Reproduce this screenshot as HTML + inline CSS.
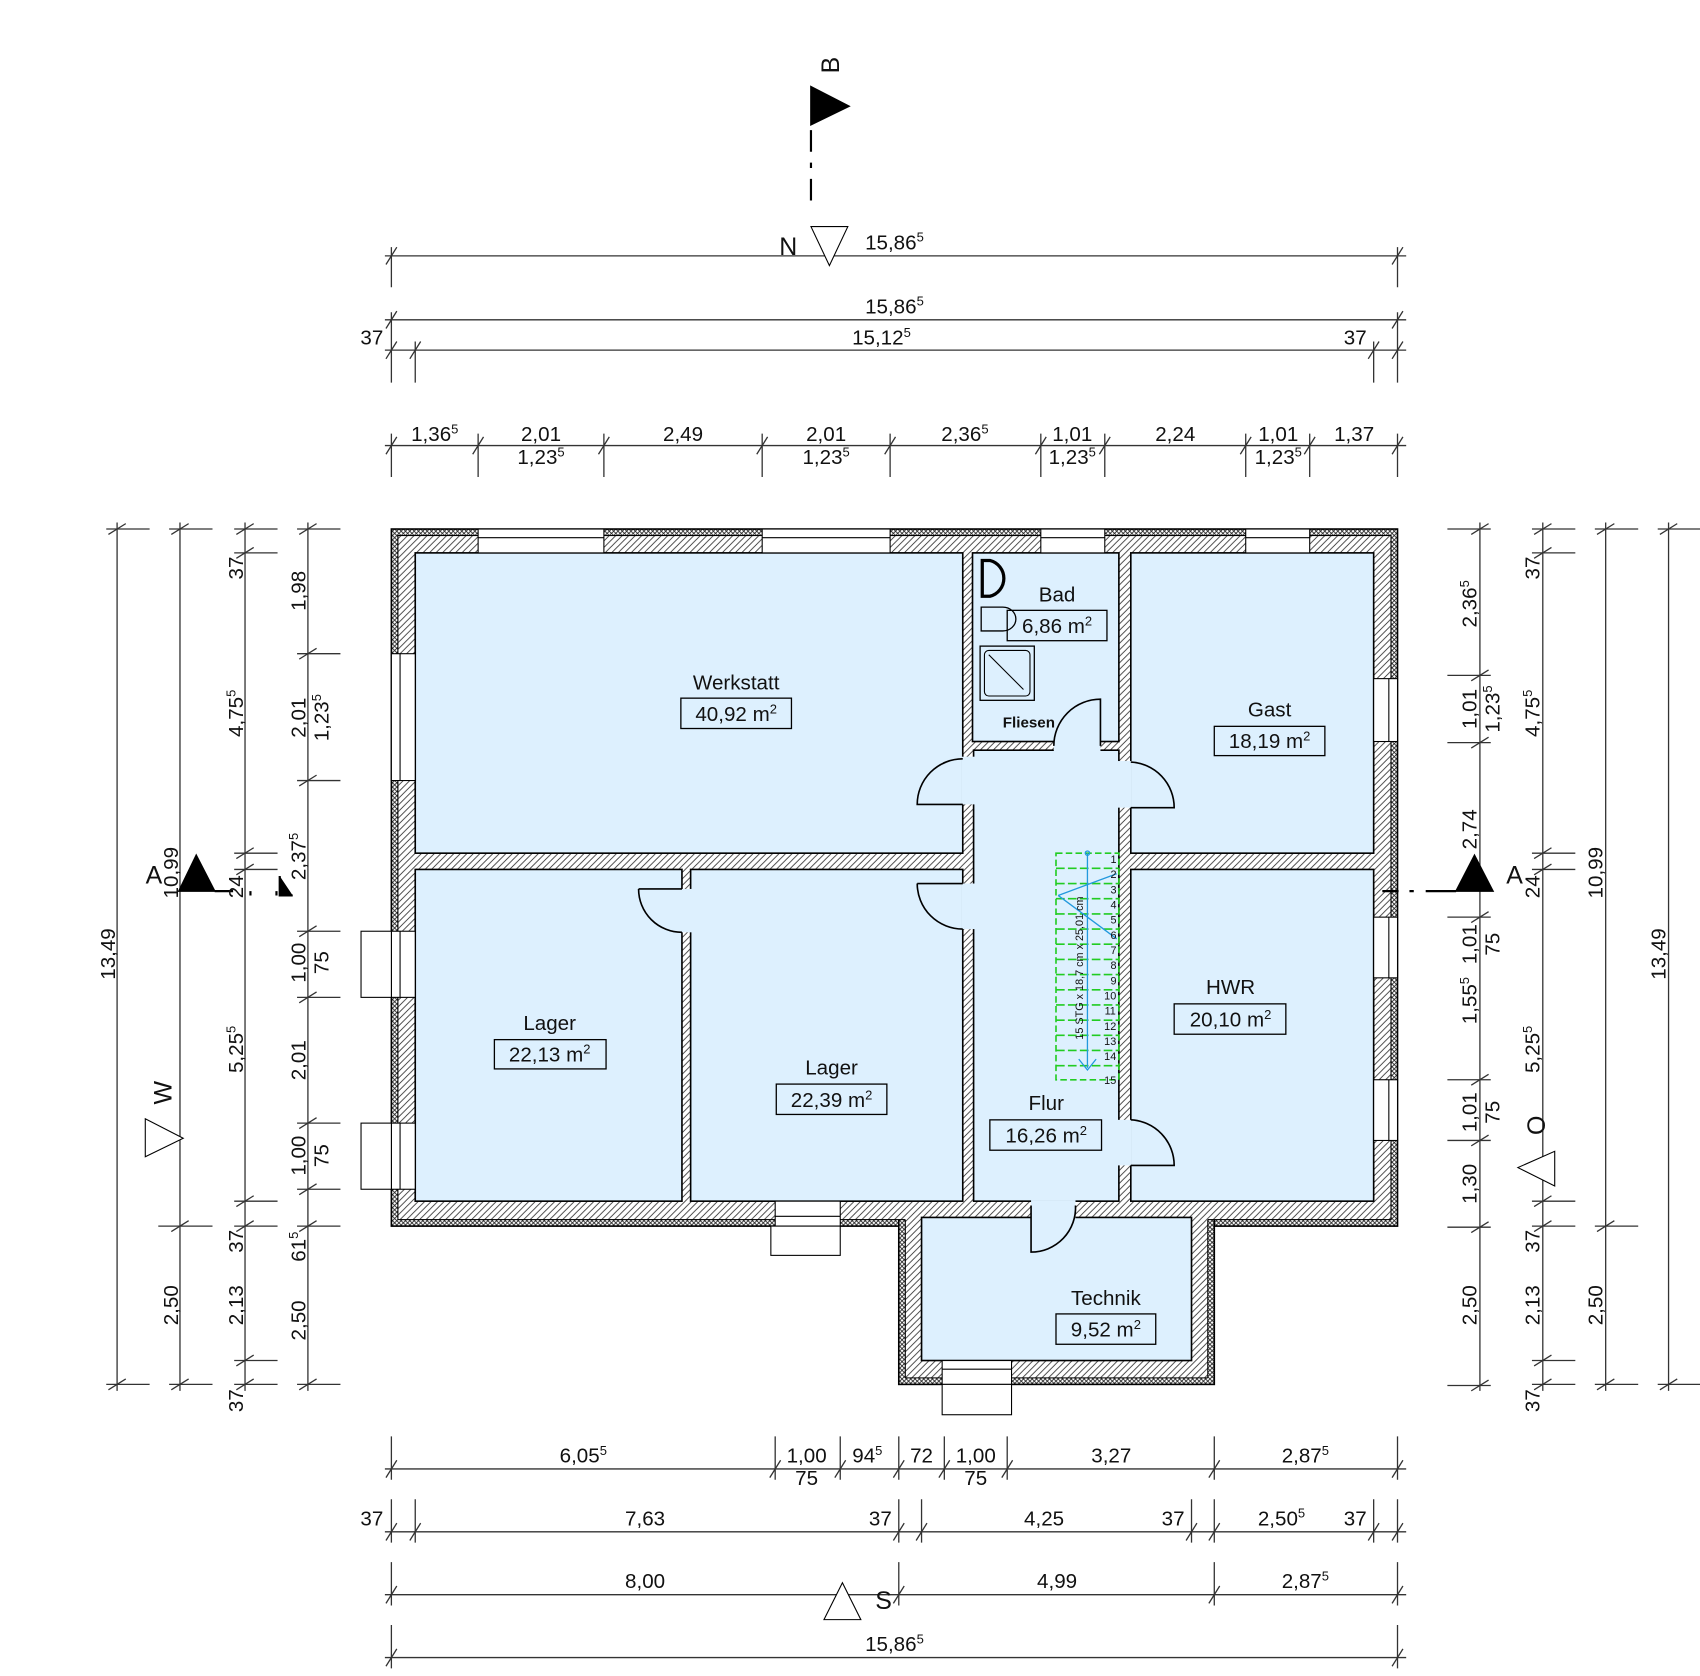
<!DOCTYPE html>
<html><head><meta charset="utf-8"><style>
html,body{margin:0;padding:0;background:#fff}
svg{display:block}
text{font-family:"Liberation Sans",sans-serif;font-size:19px;fill:#111}
.t{text-anchor:middle}
</style></head><body>
<svg width="1700" height="1676" viewBox="0 0 1568 1546" preserveAspectRatio="none" xmlns="http://www.w3.org/2000/svg">
<defs>
<pattern id="h" width="6" height="6" patternUnits="userSpaceOnUse"><rect width="6" height="6" fill="#fff"/><path d="M-1,7 L7,-1 M-1,1 L1,-1 M5,7 L7,5" stroke="#333" stroke-width="0.8"/></pattern>
<pattern id="x" width="4" height="4" patternUnits="userSpaceOnUse"><rect width="4" height="4" fill="#fff"/><path d="M0,4 L4,0 M0,0 L4,4" stroke="#222" stroke-width="0.8"/></pattern>
</defs>
<g stroke="#000" stroke-width="1.5">
<rect x="361" y="488" width="928" height="643" fill="url(#x)"/>
<rect x="829" y="1108" width="291" height="169" fill="url(#x)"/>
<rect x="367" y="494" width="916" height="631" fill="url(#h)" stroke-width="1"/>
<rect x="835" y="1108" width="279" height="163" fill="url(#h)" stroke="none"/>
<line x1="835" y1="1125" x2="835" y2="1271" stroke-width="1"/><line x1="1114" y1="1125" x2="1114" y2="1271" stroke-width="1"/><line x1="835" y1="1271" x2="1114" y2="1271" stroke-width="1"/>
<g fill="#ddf0fe">
<rect x="383" y="510" width="505" height="277"/>
<rect x="897" y="510" width="135" height="174"/>
<rect x="1043" y="510" width="224" height="277"/>
<rect x="383" y="802" width="246" height="306"/>
<rect x="637" y="802" width="251" height="306"/>
<rect x="898" y="692" width="134" height="416"/>
<rect x="1043" y="802" width="224" height="306"/>
<rect x="850" y="1123" width="249" height="132"/>
</g>
</g>
<!-- door openings -->
<g fill="#ddf0fe" stroke="none">
<rect x="887" y="698" width="13" height="44"/>
<rect x="1031" y="702" width="13" height="43"/>
<rect x="887" y="815" width="13" height="42"/>
<rect x="1031" y="1033" width="13" height="42"/>
<rect x="628" y="820" width="10" height="40"/>
<rect x="972" y="683" width="43" height="11"/>
<rect x="951" y="1107" width="41" height="17"/>
</g>
<g fill="none" stroke="#000" stroke-width="1.5">
<path d="M888,700 A42,42 0 0 0 846,742 L888,742"/>
<path d="M1043,703 A42,42 0 0 1 1083,745 L1043,745"/>
<path d="M846,815 L888,815 M846,815 A42,42 0 0 0 888,857"/>
<path d="M589,820 L629,820 M589,820 A40,40 0 0 0 629,860"/>
<path d="M1043,1033 A42,42 0 0 1 1083,1075 L1043,1075"/>
<path d="M1015,688 L1015,645 A43,43 0 0 0 972,688"/>
<path d="M951,1112 L951,1155 A41,41 0 0 0 992,1112"/>
</g>
<!-- windows -->
<g fill="#fff" stroke="#000" stroke-width="1">
<rect x="441" y="488" width="116" height="22"/><rect x="703" y="488" width="118" height="22"/><rect x="960" y="488" width="59" height="22"/><rect x="1149" y="488" width="59" height="22"/>
<rect x="361" y="603" width="22" height="117"/><rect x="361" y="859" width="22" height="61"/><rect x="361" y="1036" width="22" height="61"/>
<rect x="1267" y="626" width="22" height="58"/><rect x="1267" y="846" width="22" height="56"/><rect x="1267" y="996" width="22" height="56"/>
<rect x="715" y="1108" width="60" height="23"/><rect x="869" y="1255" width="64" height="22"/>
<rect x="333" y="859" width="28" height="61"/><rect x="333" y="1036" width="28" height="61"/>
<rect x="711" y="1131" width="64" height="27"/><rect x="869" y="1277" width="64" height="28"/>
</g>
<g stroke="#000" stroke-width="1">
<path d="M441,496 H557 M703,496 H821 M960,496 H1019 M1149,496 H1208 M369,603 V720 M369,859 V920 M369,1036 V1097 M1281,626 V684 M1281,846 V902 M1281,996 V1052 M715,1122 H775 M869,1263 H933"/>
</g>
<!-- bathroom fixtures -->
<g fill="none" stroke="#000" stroke-width="2">
<path d="M906,517 V550 H913 A17,17 0 0 0 913,517 Z" stroke-width="3"/>
<path d="M905,560 H925 A12,11 0 0 1 925,582 H905 Z" stroke-width="1.2"/>
<rect x="904" y="596" width="50" height="50" stroke-width="1.2"/><rect x="908" y="600" width="42" height="42" rx="4" stroke-width="1"/><path d="M912,604 L944,636" stroke-width="1"/>
</g>
<!-- stairs -->
<g stroke="#2c2" stroke-width="1.5" fill="none">
<rect x="974" y="787" width="58" height="209" stroke-dasharray="6,3"/>
<path d="M974,801H1032M974,815H1032M974,829H1032M974,843H1032M974,857H1032M974,871H1032M974,885H1032M974,899H1032M974,913H1032M974,927H1032M974,941H1032M974,955H1032M974,969H1032M974,983H1032" stroke-dasharray="8,3"/>
</g>
<g stroke="#29d" stroke-width="1.2" fill="none">
<path d="M1003,787 V985 M995,977 L1003,987 L1011,977 M976,826 L1030,866 M976,826 L1030,806"/>
<circle cx="1003" cy="787" r="2"/>
</g>
<g font-size="10" style="font-size:10px">
<text x="1027" y="796" class="t" style="font-size:10px">1</text><text x="1027" y="810" class="t" style="font-size:10px">2</text><text x="1027" y="824" class="t" style="font-size:10px">3</text><text x="1027" y="838" class="t" style="font-size:10px">4</text><text x="1027" y="852" class="t" style="font-size:10px">5</text><text x="1027" y="866" class="t" style="font-size:10px">6</text><text x="1027" y="880" class="t" style="font-size:10px">7</text><text x="1027" y="894" class="t" style="font-size:10px">8</text><text x="1027" y="908" class="t" style="font-size:10px">9</text><text x="1024" y="922" class="t" style="font-size:10px">10</text><text x="1024" y="936" class="t" style="font-size:10px">11</text><text x="1024" y="950" class="t" style="font-size:10px">12</text><text x="1024" y="964" class="t" style="font-size:10px">13</text><text x="1024" y="978" class="t" style="font-size:10px">14</text><text x="1024" y="1000" class="t" style="font-size:10px">15</text>
<text transform="translate(999,893) rotate(-90)" class="t" style="font-size:10px">15 STG x 18,7 cm x 25,01 cm</text>
</g>
<!-- room labels -->
<g fill="none" stroke="#000" stroke-width="1.2">
<rect x="628" y="644" width="102" height="28"/><rect x="929" y="563" width="92" height="28"/><rect x="1120" y="670" width="102" height="27"/><rect x="456" y="959" width="103" height="27"/><rect x="716" y="1000" width="102" height="28"/><rect x="1083" y="926" width="103" height="28"/><rect x="913" y="1033" width="103" height="28"/><rect x="974" y="1212" width="92" height="28"/>
</g>
<text x="679" y="636" class="t">Werkstatt</text><text x="679" y="665" class="t">40,92 m<tspan dy="-7" style="font-size:12px">2</tspan></text>
<text x="975" y="555" class="t">Bad</text><text x="975" y="584" class="t">6,86 m<tspan dy="-7" style="font-size:12px">2</tspan></text>
<text x="1171" y="661" class="t">Gast</text><text x="1171" y="690" class="t">18,19 m<tspan dy="-7" style="font-size:12px">2</tspan></text>
<text x="507" y="950" class="t">Lager</text><text x="507" y="979" class="t">22,13 m<tspan dy="-7" style="font-size:12px">2</tspan></text>
<text x="767" y="991" class="t">Lager</text><text x="767" y="1021" class="t">22,39 m<tspan dy="-7" style="font-size:12px">2</tspan></text>
<text x="1135" y="917" class="t">HWR</text><text x="1135" y="947" class="t">20,10 m<tspan dy="-7" style="font-size:12px">2</tspan></text>
<text x="965" y="1024" class="t">Flur</text><text x="965" y="1054" class="t">16,26 m<tspan dy="-7" style="font-size:12px">2</tspan></text>
<text x="1020" y="1204" class="t">Technik</text><text x="1020" y="1233" class="t">9,52 m<tspan dy="-7" style="font-size:12px">2</tspan></text>
<text x="949" y="671" class="t" style="font-size:14px;font-weight:bold">Fliesen</text>

<!-- dimension lines -->
<g stroke="#333" stroke-width="1.2" fill="none">
<!-- top -->
<path d="M355,236H1297 M355,295H1297 M355,323H1297 M355,411H1297"/>
<path d="M361,228V265 M1289,228V265 M361,288V353 M1289,288V353 M383,315V353 M1267,315V353"/>
<path d="M361,400V440 M441,400V440 M557,400V440 M703,400V440 M821,400V440 M960,400V440 M1019,400V440 M1149,400V440 M1208,400V440 M1289,400V440"/>
<path d="M356,244L366,228 M1284,244L1294,228 M356,303L366,287 M1284,303L1294,287 M356,331L366,315 M378,331L388,315 M1262,331L1272,315 M1284,331L1294,315"/>
<path d="M356,419L366,403 M436,419L446,403 M552,419L562,403 M698,419L708,403 M816,419L826,403 M955,419L965,403 M1014,419L1024,403 M1144,419L1154,403 M1203,419L1213,403 M1284,419L1294,403"/>
<!-- bottom -->
<path d="M355,1355H1297 M355,1413H1297 M355,1471H1297 M355,1529H1297"/>
<path d="M361,1325V1365 M715,1325V1365 M775,1325V1365 M829,1325V1365 M871,1325V1365 M929,1325V1365 M1120,1325V1365 M1289,1325V1365"/>
<path d="M361,1383V1423 M383,1383V1423 M829,1383V1423 M850,1383V1423 M1099,1383V1423 M1120,1383V1423 M1267,1383V1423 M1289,1383V1423"/>
<path d="M361,1441V1481 M829,1441V1481 M1120,1441V1481 M1289,1441V1481 M361,1499V1539 M1289,1499V1539"/>
<path d="M356,1363L366,1347 M710,1363L720,1347 M770,1363L780,1347 M824,1363L834,1347 M866,1363L876,1347 M924,1363L934,1347 M1115,1363L1125,1347 M1284,1363L1294,1347"/>
<path d="M356,1421L366,1405 M378,1421L388,1405 M824,1421L834,1405 M845,1421L855,1405 M1094,1421L1104,1405 M1115,1421L1125,1405 M1262,1421L1272,1405 M1284,1421L1294,1405"/>
<path d="M356,1479L366,1463 M824,1479L834,1463 M1115,1479L1125,1463 M1284,1479L1294,1463 M356,1537L366,1521 M1284,1537L1294,1521"/>
<!-- left -->
<path d="M108,482V1283 M166,482V1283 M226,482V1283 M284,482V1283"/>
<path d="M98,488H138 M98,1277H138 M156,488H196 M146,1131H196 M156,1277H196"/>
<path d="M216,488H256 M216,510H256 M216,787H256 M216,802H256 M216,1108H256 M216,1131H256 M216,1255H256 M216,1277H256"/>
<path d="M274,488H314 M274,603H314 M274,720H314 M274,859H314 M274,920H314 M274,1036H314 M274,1097H314 M274,1131H314 M274,1277H314"/>
<path d="M100,493L116,483 M100,1282L116,1272 M158,493L174,483 M158,1136L174,1126 M158,1282L174,1272"/>
<path d="M218,493L234,483 M218,515L234,505 M218,792L234,782 M218,807L234,797 M218,1113L234,1103 M218,1136L234,1126 M218,1260L234,1250 M218,1282L234,1272"/>
<path d="M276,493L292,483 M276,608L292,598 M276,725L292,715 M276,864L292,854 M276,925L292,915 M276,1041L292,1031 M276,1102L292,1092 M276,1136L292,1126 M276,1282L292,1272"/>
<!-- right -->
<path d="M1365,482V1283 M1423,482V1283 M1481,482V1283 M1539,482V1283"/>
<path d="M1335,488H1375 M1335,623H1375 M1335,685H1375 M1335,846H1375 M1335,996H1375 M1335,1052H1375 M1335,1132H1375 M1335,1278H1375"/>
<path d="M1413,488H1453 M1413,510H1453 M1413,787H1453 M1413,802H1453 M1413,1108H1453 M1413,1131H1453 M1413,1255H1453 M1413,1277H1453"/>
<path d="M1471,488H1511 M1471,1131H1511 M1471,1277H1511 M1529,488H1569 M1529,1277H1569"/>
<path d="M1357,493L1373,483 M1357,628L1373,618 M1357,690L1373,680 M1357,851L1373,841 M1357,1001L1373,991 M1357,1057L1373,1047 M1357,1137L1373,1127 M1357,1283L1373,1273"/>
<path d="M1415,493L1431,483 M1415,515L1431,505 M1415,792L1431,782 M1415,807L1431,797 M1415,1113L1431,1103 M1415,1136L1431,1126 M1415,1260L1431,1250 M1415,1282L1431,1272"/>
<path d="M1473,493L1489,483 M1473,1136L1489,1126 M1473,1282L1489,1272 M1531,493L1547,483 M1531,1282L1547,1272"/>
</g>
<!-- section / compass markers -->
<g stroke="#000" stroke-width="1.5">
<path d="M748,120V140 M748,150V155 M748,165V185" stroke-width="2"/>
<polygon points="748,80 783,98 748,115" fill="#000"/>
<polygon points="748,209 782,209 765,245" fill="#fff" stroke-width="1"/>
<polygon points="760,1494 794,1494 777,1460" fill="#fff" stroke-width="1"/>
<polygon points="165,822 198,822 181,789" fill="#000"/>
<polygon points="1343,822 1377,822 1360,789" fill="#000"/>
<path d="M198,822H215 M231,822V826 M255,822V826 M258,808V826H270 M1275,822H1290 M1300,822H1304 M1315,822H1343" stroke-width="2"/>
<polygon points="134,1032 134,1067 169,1050" fill="#fff" stroke-width="1"/>
<polygon points="1400,1077 1434,1062 1434,1094" fill="#fff" stroke-width="1"/>
</g>
<g style="font-size:23px">
<text transform="translate(774,60) rotate(-90)" class="t" style="font-size:23px">B</text>
<text x="727" y="235" class="t" style="font-size:23px">N</text>
<text x="815" y="1484" class="t" style="font-size:23px">S</text>
<text x="142" y="815" class="t" style="font-size:23px">A</text>
<text x="1397" y="815" class="t" style="font-size:23px">A</text>
<text transform="translate(158,1008) rotate(-90)" class="t" style="font-size:23px">W</text>
<text transform="translate(1425,1038) rotate(-90)" class="t" style="font-size:23px">O</text>
</g>
<!-- top dim labels -->
<text x="825" y="230" class="t">15,86<tspan dy="-7" style="font-size:12px">5</tspan></text>
<text x="825" y="289" class="t">15,86<tspan dy="-7" style="font-size:12px">5</tspan></text>
<text x="343" y="318" class="t">37</text><text x="813" y="318" class="t">15,12<tspan dy="-7" style="font-size:12px">5</tspan></text><text x="1250" y="318" class="t">37</text>
<text x="401" y="407" class="t">1,36<tspan dy="-7" style="font-size:12px">5</tspan></text>
<text x="499" y="407" class="t">2,01</text><text x="499" y="428" class="t">1,23<tspan dy="-7" style="font-size:12px">5</tspan></text>
<text x="630" y="407" class="t">2,49</text>
<text x="762" y="407" class="t">2,01</text><text x="762" y="428" class="t">1,23<tspan dy="-7" style="font-size:12px">5</tspan></text>
<text x="890" y="407" class="t">2,36<tspan dy="-7" style="font-size:12px">5</tspan></text>
<text x="989" y="407" class="t">1,01</text><text x="989" y="428" class="t">1,23<tspan dy="-7" style="font-size:12px">5</tspan></text>
<text x="1084" y="407" class="t">2,24</text>
<text x="1179" y="407" class="t">1,01</text><text x="1179" y="428" class="t">1,23<tspan dy="-7" style="font-size:12px">5</tspan></text>
<text x="1249" y="407" class="t">1,37</text>
<!-- bottom dim labels -->
<text x="538" y="1349" class="t">6,05<tspan dy="-7" style="font-size:12px">5</tspan></text>
<text x="744" y="1349" class="t">1,00</text><text x="744" y="1370" class="t">75</text>
<text x="800" y="1349" class="t">94<tspan dy="-7" style="font-size:12px">5</tspan></text>
<text x="850" y="1349" class="t">72</text>
<text x="900" y="1349" class="t">1,00</text><text x="900" y="1370" class="t">75</text>
<text x="1025" y="1349" class="t">3,27</text>
<text x="1204" y="1349" class="t">2,87<tspan dy="-7" style="font-size:12px">5</tspan></text>
<text x="343" y="1407" class="t">37</text><text x="595" y="1407" class="t">7,63</text><text x="812" y="1407" class="t">37</text><text x="963" y="1407" class="t">4,25</text><text x="1082" y="1407" class="t">37</text><text x="1182" y="1407" class="t">2,50<tspan dy="-7" style="font-size:12px">5</tspan></text><text x="1250" y="1407" class="t">37</text>
<text x="595" y="1465" class="t">8,00</text><text x="975" y="1465" class="t">4,99</text><text x="1204" y="1465" class="t">2,87<tspan dy="-7" style="font-size:12px">5</tspan></text>
<text x="825" y="1523" class="t">15,86<tspan dy="-7" style="font-size:12px">5</tspan></text>
<!-- left labels (rotated) -->
<g class="t">
<text transform="translate(106,880) rotate(-90)" class="t">13,49</text>
<text transform="translate(164,805) rotate(-90)" class="t">10,99</text>
<text transform="translate(164,1204) rotate(-90)" class="t">2,50</text>
<text transform="translate(224,524) rotate(-90)" class="t">37</text>
<text transform="translate(224,658) rotate(-90)" class="t">4,75<tspan dy="-7" style="font-size:12px">5</tspan></text>
<text transform="translate(224,818) rotate(-90)" class="t">24</text>
<text transform="translate(224,968) rotate(-90)" class="t">5,25<tspan dy="-7" style="font-size:12px">5</tspan></text>
<text transform="translate(224,1145) rotate(-90)" class="t">37</text>
<text transform="translate(224,1204) rotate(-90)" class="t">2,13</text>
<text transform="translate(224,1292) rotate(-90)" class="t">37</text>
<text transform="translate(282,545) rotate(-90)" class="t">1,98</text>
<text transform="translate(282,662) rotate(-90)" class="t">2,01</text>
<text transform="translate(303,662) rotate(-90)" class="t">1,23<tspan dy="-7" style="font-size:12px">5</tspan></text>
<text transform="translate(282,790) rotate(-90)" class="t">2,37<tspan dy="-7" style="font-size:12px">5</tspan></text>
<text transform="translate(282,888) rotate(-90)" class="t">1,00</text><text transform="translate(303,888) rotate(-90)" class="t">75</text>
<text transform="translate(282,978) rotate(-90)" class="t">2,01</text>
<text transform="translate(282,1066) rotate(-90)" class="t">1,00</text><text transform="translate(303,1066) rotate(-90)" class="t">75</text>
<text transform="translate(282,1150) rotate(-90)" class="t">61<tspan dy="-7" style="font-size:12px">5</tspan></text>
<text transform="translate(282,1218) rotate(-90)" class="t">2,50</text>
<!-- right labels -->
<text transform="translate(1362,557) rotate(-90)" class="t">2,36<tspan dy="-7" style="font-size:12px">5</tspan></text>
<text transform="translate(1362,654) rotate(-90)" class="t">1,01</text><text transform="translate(1383,654) rotate(-90)" class="t">1,23<tspan dy="-7" style="font-size:12px">5</tspan></text>
<text transform="translate(1362,765) rotate(-90)" class="t">2,74</text>
<text transform="translate(1362,871) rotate(-90)" class="t">1,01</text><text transform="translate(1383,871) rotate(-90)" class="t">75</text>
<text transform="translate(1362,923) rotate(-90)" class="t">1,55<tspan dy="-7" style="font-size:12px">5</tspan></text>
<text transform="translate(1362,1026) rotate(-90)" class="t">1,01</text><text transform="translate(1383,1026) rotate(-90)" class="t">75</text>
<text transform="translate(1362,1092) rotate(-90)" class="t">1,30</text>
<text transform="translate(1362,1204) rotate(-90)" class="t">2,50</text>
<text transform="translate(1420,524) rotate(-90)" class="t">37</text>
<text transform="translate(1420,658) rotate(-90)" class="t">4,75<tspan dy="-7" style="font-size:12px">5</tspan></text>
<text transform="translate(1420,818) rotate(-90)" class="t">24</text>
<text transform="translate(1420,968) rotate(-90)" class="t">5,25<tspan dy="-7" style="font-size:12px">5</tspan></text>
<text transform="translate(1420,1145) rotate(-90)" class="t">37</text>
<text transform="translate(1420,1204) rotate(-90)" class="t">2,13</text>
<text transform="translate(1420,1292) rotate(-90)" class="t">37</text>
<text transform="translate(1478,805) rotate(-90)" class="t">10,99</text>
<text transform="translate(1478,1204) rotate(-90)" class="t">2,50</text>
<text transform="translate(1536,880) rotate(-90)" class="t">13,49</text>
</g>
</svg>
</body></html>
